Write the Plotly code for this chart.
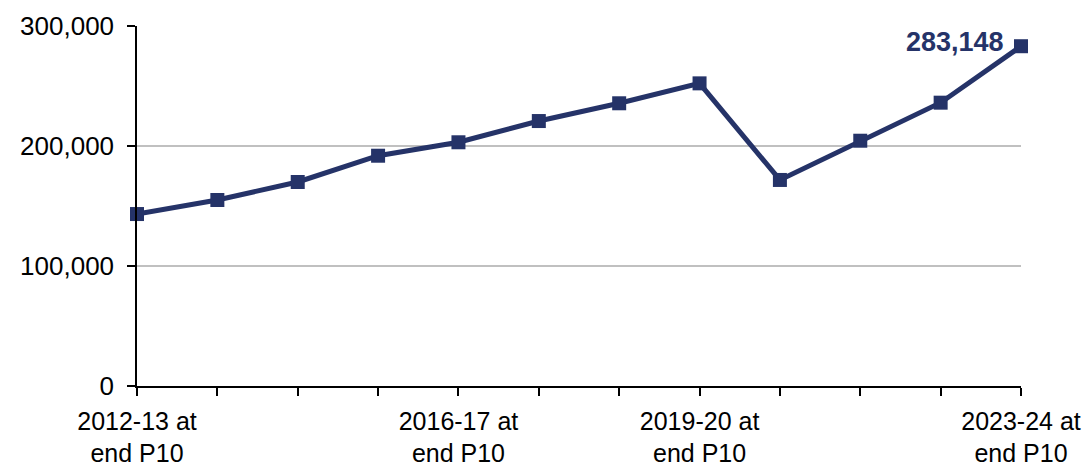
import plotly.graph_objects as go

categories = ["2012-13", "2013-14", "2014-15", "2015-16", "2016-17", "2017-18",
              "2018-19", "2019-20", "2020-21", "2021-22", "2022-23", "2023-24"]
values = [143300, 155000, 170000, 191900, 203100, 220800,
          235600, 252200, 171700, 204400, 236100, 283148]
shown_labels = {"2012-13": "2012-13 at<br>end P10", "2016-17": "2016-17 at<br>end P10",
                "2019-20": "2019-20 at<br>end P10", "2023-24": "2023-24 at<br>end P10"}
y_ticks = [0, 100000, 200000, 300000]
y_tick_text = ["0", "100,000", "200,000", "300,000"]

navy = "#253368"
idx = list(range(len(categories)))

fig = go.Figure()
fig.add_trace(go.Scatter(
    x=idx, y=values, mode="lines+markers",
    line=dict(color=navy, width=5),
    marker=dict(symbol="square", size=14, color=navy),
    hoverinfo="skip", showlegend=False, cliponaxis=False,
))
fig.add_annotation(
    x=idx[-1], y=values[-1], text=f"{values[-1]:,}",
    showarrow=False, xanchor="right", yanchor="middle",
    xshift=-15, yshift=4,
    font=dict(family="Liberation Sans, Arial", size=27, color=navy, weight="bold"),
)

fig.update_layout(
    width=1089, height=470,
    margin=dict(l=137, r=68, t=26, b=84, autoexpand=False),
    paper_bgcolor="white", plot_bgcolor="white",
    font=dict(family="Liberation Sans, Arial", size=26, color="#000000"),
)
fig.update_xaxes(
    range=[0, len(categories) - 1],
    tickmode="array", tickvals=idx,
    ticktext=[shown_labels.get(c, "") for c in categories],
    tickfont=dict(size=25),
    ticks="outside", ticklen=8, tickcolor="black", tickwidth=1.5,
    showline=True, linecolor="black", linewidth=1.5,
    showgrid=False, zeroline=False, ticklabelstandoff=4, automargin=False,
)
fig.update_yaxes(
    range=[0, 300000],
    tickmode="array", tickvals=y_ticks, ticktext=y_tick_text,
    ticks="outside", ticklen=8, tickcolor="black", tickwidth=1.5,
    showline=True, linecolor="black", linewidth=1.5,
    showgrid=True, gridcolor="#c0c0c0", gridwidth=1.5,
    zeroline=False, ticklabelstandoff=8, automargin=False,
)

fig.write_html("out.html", config={"displayModeBar": False},
               post_script="document.body.style.margin='0';")
